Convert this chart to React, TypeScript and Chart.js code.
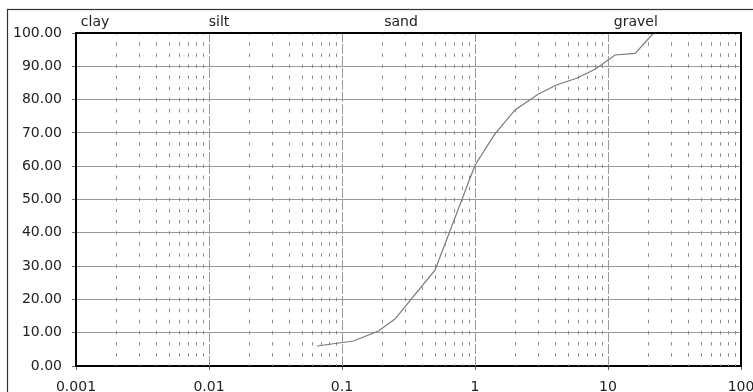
import React, { useEffect, useRef } from "react";
import { Chart, registerables } from "chart.js";

Chart.register(...registerables);

// Particle size (mm) and percent passing
const sizes = [0.065, 0.122, 0.188, 0.25, 0.5, 1.0, 1.4, 2.0, 3.0, 4.1, 5.8, 8.0, 11.3, 16, 22];
const passing = [6.0, 7.5, 10.5, 14.1, 28.8, 60.3, 69.5, 76.9, 81.7, 84.4, 86.4, 89.1, 93.4, 93.9, 100];

const xTickValues = [0.001, 0.01, 0.1, 1, 10, 100];
const yTickValues = [0, 10, 20, 30, 40, 50, 60, 70, 80, 90, 100];

const zoneLabels = ["clay", "silt", "sand", "gravel"];
const zoneAnchors = [0.00139, 0.0119, 0.278, 16.2];

const FONT = "'DejaVu Sans', Verdana, sans-serif";

const decorPlugin = {
  id: "decor",
  beforeDraw(chart: any) {
    const { ctx } = chart;
    ctx.save();
    ctx.fillStyle = "#fff";
    ctx.fillRect(0, 0, chart.width, chart.height);
    ctx.strokeStyle = "#333";
    ctx.lineWidth = 1.2;
    ctx.strokeRect(7.5, 9.5, chart.width + 20, chart.height + 20);
    ctx.restore();
  },
  beforeDatasetsDraw(chart: any) {
    const { ctx, chartArea, scales } = chart;
    const { top, bottom, left, right } = chartArea;
    const x = scales.x;
    ctx.save();
    ctx.beginPath();
    ctx.rect(left, top, right - left, bottom - top);
    ctx.clip();
    ctx.lineWidth = 1;
    const decades = xTickValues.slice(0, -1);
    decades.forEach((d) => {
      for (let m = 2; m <= 9; m++) {
        const px = Math.round(x.getPixelForValue(d * m)) + 0.5;
        ctx.strokeStyle = "#8c8c8c";
        ctx.setLineDash([3.5, 7.6]);
        ctx.beginPath();
        ctx.moveTo(px, bottom + 1.75);
        ctx.lineTo(px, top);
        ctx.stroke();
      }
    });
    xTickValues.slice(1, -1).forEach((d) => {
      const px = Math.round(x.getPixelForValue(d)) + 0.5;
      ctx.strokeStyle = "#9a9a9a";
      ctx.setLineDash([10, 2]);
      ctx.beginPath();
      ctx.moveTo(px, bottom);
      ctx.lineTo(px, top);
      ctx.stroke();
    });
    ctx.restore();
  },
  afterDraw(chart: any) {
    const { ctx, chartArea, scales } = chart;
    const { top, bottom, left, right } = chartArea;
    ctx.save();
    ctx.strokeStyle = "#000";
    ctx.lineWidth = 2;
    ctx.beginPath();
    ctx.moveTo(left, top);
    ctx.lineTo(right, top);
    ctx.lineTo(right, bottom);
    ctx.stroke();
    ctx.fillStyle = "#222";
    ctx.font = `14px ${FONT}`;
    ctx.textAlign = "center";
    ctx.textBaseline = "alphabetic";
    zoneLabels.forEach((t, i) => {
      ctx.fillText(t, scales.x.getPixelForValue(zoneAnchors[i]), 26);
    });
    ctx.restore();
  },
};

export default function App() {
  const ref = useRef<HTMLCanvasElement>(null);
  useEffect(() => {
    if (!ref.current) return;
    const chart = new Chart(ref.current, {
      type: "line",
      data: {
        datasets: [
          {
            data: sizes.map((s, i) => ({ x: s, y: passing[i] })),
            borderColor: "#7a7a7a",
            borderWidth: 1.2,
            pointRadius: 0,
            tension: 0,
            fill: false,
          },
        ],
      },
      options: {
        animation: false,
        responsive: false,
        maintainAspectRatio: false,
        layout: { padding: { left: 0, top: 33, right: 24, bottom: 0 } },
        plugins: { legend: { display: false }, tooltip: { enabled: false } },
        scales: {
          x: {
            type: "logarithmic",
            min: 0.001,
            max: 100,
            afterBuildTicks: (s: any) => {
              s.ticks = xTickValues.map((v) => ({ value: v }));
            },
            afterFit: (s: any) => {
              s.height = 26;
            },
            ticks: {
              autoSkip: false,
              maxRotation: 0,
              padding: 9,
              color: "#222",
              font: { family: FONT, size: 14 },
              callback: (v: any) => String(v),
            },
            grid: {
              drawOnChartArea: false,
              drawTicks: true,
              tickLength: 4,
              tickColor: "#666",
            },
            border: { display: true, color: "#000", width: 2 },
          },
          y: {
            type: "linear",
            min: 0,
            max: 100,
            afterBuildTicks: (s: any) => {
              s.ticks = yTickValues.map((v) => ({ value: v }));
            },
            afterFit: (s: any) => {
              s.width = 76;
            },
            ticks: {
              padding: 10,
              color: "#222",
              font: { family: FONT, size: 14 },
              callback: (v: any) => Number(v).toFixed(2),
            },
            grid: {
              color: (c: any) =>
                c.tick && (c.tick.value === 0 || c.tick.value === 100) ? "rgba(0,0,0,0)" : "#999",
              lineWidth: 1,
              tickLength: 4,
              tickColor: "#666",
            },
            border: { display: true, color: "#000", width: 2 },
          },
        },
      },
      plugins: [decorPlugin],
    });
    return () => chart.destroy();
  }, []);
  return (
    <div style={{ position: "absolute", left: 0, top: 0, width: 753, height: 392, overflow: "hidden" }}>
      <canvas ref={ref} width={765} height={392} style={{ display: "block" }} />
    </div>
  );
}
